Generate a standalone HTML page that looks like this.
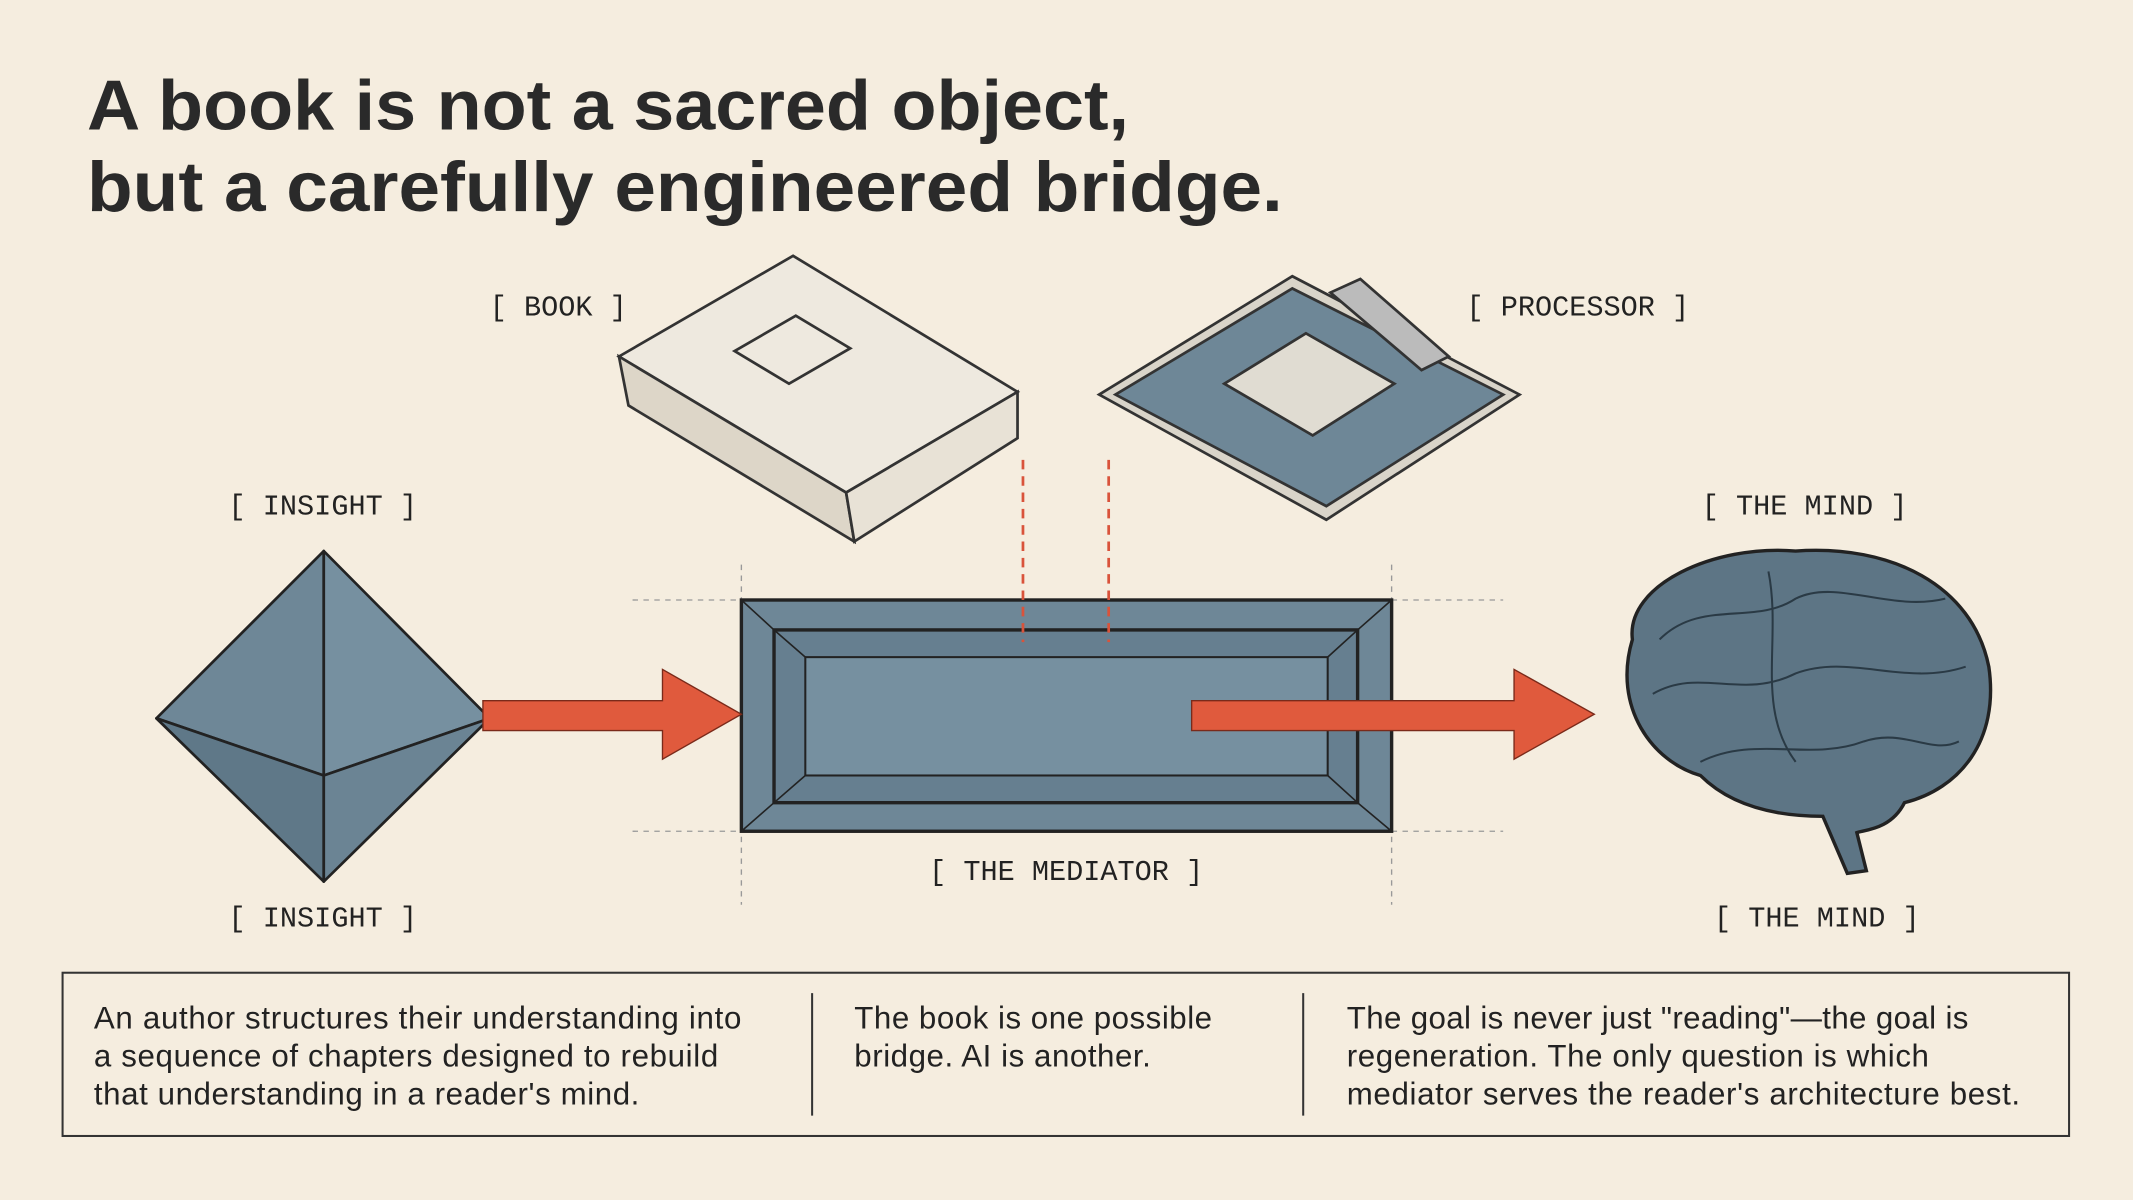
<!DOCTYPE html>
<html><head><meta charset="utf-8"><style>
html,body{margin:0;padding:0;background:#f5eddf;}
svg{display:block}
.m{font-family:"Liberation Mono",monospace;font-size:21px;fill:#222}
.t{font-family:"Liberation Sans",sans-serif;font-size:23px;fill:#222}
</style></head><body>
<svg width="2133" height="1200" viewBox="0 0 1568 882" xmlns="http://www.w3.org/2000/svg">
<rect width="1568" height="882" fill="#f5eddf"/>
<g font-family="Liberation Sans,sans-serif" font-weight="bold" font-size="52" fill="#2a2a2a">
<text x="64" y="95" textLength="766" lengthAdjust="spacingAndGlyphs">A book is not a sacred object,</text>
<text x="64" y="155" textLength="879" lengthAdjust="spacingAndGlyphs">but a carefully engineered bridge.</text>
</g>
<text class="m" x="360" y="232">[ BOOK ]</text>
<text class="m" x="1078" y="232">[ PROCESSOR ]</text>
<text class="m" x="168" y="378">[ INSIGHT ]</text>
<text class="m" x="168" y="681">[ INSIGHT ]</text>
<text class="m" x="1251" y="378">[ THE MIND ]</text>
<text class="m" x="1260" y="681">[ THE MIND ]</text>
<text class="m" x="683" y="647">[ THE MEDIATOR ]</text>
<!-- book -->
<g stroke="#333" stroke-width="2" fill="#eee9df">
<polygon points="455,262 583,188 748,288 622,362"/>
<polygon points="455,262 622,362 628,398 462,298" fill="#ddd6c8"/>
<polygon points="622,362 748,288 748,322 628,398" fill="#e8e2d6"/>
<polygon points="540,258 585,232 625,256 580,282" fill="none"/>
</g>
<!-- processor -->
<g stroke="#333" stroke-width="2">
<polygon points="808,290 950,203 1117,290 975,382" fill="#d9d4c9"/>
<polygon points="820,290 950,212 1105,290 975,372" fill="#6e8797"/>
<polygon points="900,282 960,245 1025,282 965,320" fill="#e0dcd2"/>
<polygon points="978,215 1000,205 1065,262 1045,272" fill="#bbb"/>
</g>
<!-- guides -->
<g stroke="#999" stroke-width="1" stroke-dasharray="4,4" fill="none">
<line x1="465" y1="441" x2="545" y2="441"/><line x1="1023" y1="441" x2="1105" y2="441"/>
<line x1="465" y1="611" x2="545" y2="611"/><line x1="1023" y1="611" x2="1105" y2="611"/>
<line x1="545" y1="415" x2="545" y2="665"/><line x1="1023" y1="415" x2="1023" y2="665"/>
</g>
<!-- mediator -->
<g stroke="#222" stroke-width="2.5" fill="#6e8797">
<rect x="545" y="441" width="478" height="170"/>
<rect x="569" y="463" width="429" height="127" fill="#667f90"/>
<rect x="592" y="483" width="384" height="87" fill="#7690a0" stroke-width="1.5"/>
</g>
<g stroke="#222" stroke-width="1.2"><line x1="545" y1="441" x2="569" y2="463"/><line x1="1023" y1="441" x2="998" y2="463"/><line x1="545" y1="611" x2="569" y2="590"/><line x1="1023" y1="611" x2="998" y2="590"/><line x1="569" y1="463" x2="592" y2="483"/><line x1="998" y1="463" x2="976" y2="483"/><line x1="569" y1="590" x2="592" y2="570"/><line x1="998" y1="590" x2="976" y2="570"/></g>
<g stroke="#d9533b" stroke-width="2" stroke-dasharray="7,5">
<line x1="752" y1="338" x2="752" y2="472"/><line x1="815" y1="338" x2="815" y2="472"/>
</g>
<!-- octahedron -->
<g stroke="#222" stroke-width="2" fill="#6e8797" stroke-linejoin="round">
<polygon points="238,405 115,528 238,570"/>
<polygon points="238,405 360,528 238,570" fill="#7690a0"/>
<polygon points="115,528 238,570 238,648" fill="#5f7888"/>
<polygon points="360,528 238,570 238,648" fill="#6b8494"/>
</g>
<!-- arrows -->
<g fill="#e05a3d" stroke="#7a2a1a" stroke-width="1">
<polygon points="355,515 487,515 487,492 545,525 487,558 487,537 355,537"/>
<polygon points="876,515 1113,515 1113,492 1172,525 1113,558 1113,537 876,537"/>
</g>
<!-- brain -->
<g stroke="#222" stroke-width="2.5" fill="#5d7585">
<path d="M1200,470 C1195,430 1260,400 1320,405 C1390,400 1450,430 1462,490 C1470,545 1440,580 1400,590 C1390,610 1370,610 1365,612 L1372,640 L1358,642 L1340,600 C1300,600 1270,590 1250,570 C1215,560 1185,520 1200,470 Z"/>
</g>
<g stroke="#2a3a45" stroke-width="1.5" fill="none">
<path d="M1220,470 C1250,440 1290,460 1320,440 C1350,425 1390,450 1430,440"/>
<path d="M1215,510 C1250,490 1280,515 1320,495 C1360,480 1400,505 1445,490"/>
<path d="M1250,560 C1290,540 1330,560 1370,545 C1400,535 1420,555 1440,545"/>
<path d="M1300,420 C1310,470 1290,520 1320,560"/>
</g>
<!-- bottom box -->
<rect x="46" y="715" width="1475" height="120" fill="none" stroke="#333" stroke-width="1.5"/>
<line x1="597" y1="730" x2="597" y2="820" stroke="#333" stroke-width="1.5"/>
<line x1="958" y1="730" x2="958" y2="820" stroke="#333" stroke-width="1.5"/>
<text class="t" x="69" y="756" textLength="476">An author structures their understanding into</text>
<text class="t" x="69" y="784" textLength="459">a sequence of chapters designed to rebuild</text>
<text class="t" x="69" y="812" textLength="401">that understanding in a reader's mind.</text>
<text class="t" x="628" y="756" textLength="263">The book is one possible</text>
<text class="t" x="628" y="784" textLength="218">bridge. AI is another.</text>
<text class="t" x="990" y="756" textLength="457">The goal is never just "reading"—the goal is</text>
<text class="t" x="990" y="784" textLength="428">regeneration. The only question is which</text>
<text class="t" x="990" y="812" textLength="495">mediator serves the reader's architecture best.</text>
</svg>
</body></html>
